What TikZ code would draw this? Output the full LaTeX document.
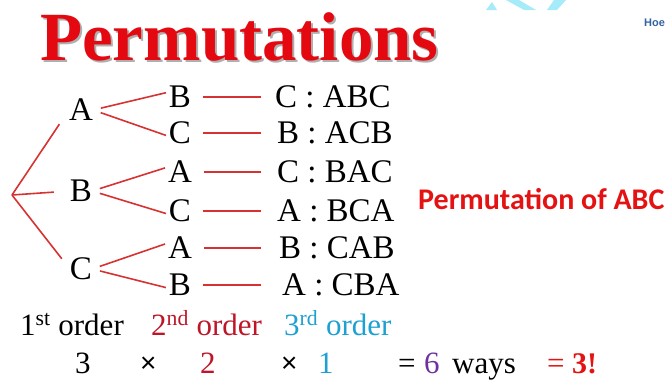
\documentclass[tikz,border=0pt]{standalone}
\usepackage{fontspec}
\setmainfont{Liberation Serif}
\newfontfamily\carlito{Carlito}
\newfontfamily\heros{Liberation Sans}
\usetikzlibrary{calc}
\definecolor{titlered}{RGB}{228,8,16}
\definecolor{shadowgray}{RGB}{175,175,175}
\definecolor{linered}{RGB}{215,50,50}
\definecolor{ordtwo}{RGB}{190,22,40}
\definecolor{ordthree}{RGB}{30,160,210}
\definecolor{sixpurple}{RGB}{112,48,160}
\definecolor{permred}{RGB}{228,18,18}
\definecolor{wmcyan}{RGB}{165,235,250}
\definecolor{hoeblue}{RGB}{50,100,160}
\tikzset{
  letter/.style={inner sep=0pt, font=\fontsize{33}{38}\selectfont},
  res/.style={inner sep=0pt, anchor=west, font=\fontsize{33}{38}\selectfont},
  branch/.style={draw=linered, line width=1.6pt},
  bottom/.style={inner sep=0pt, anchor=base west, font=\fontsize{31}{36}\selectfont},
  times/.style={inner sep=0pt, anchor=base west, font=\heros\fontsize{28}{34}\selectfont},
}
\begin{document}
\begin{tikzpicture}[x=1pt,y=-1pt]
\useasboundingbox (0,0) rectangle (669,381);
\clip (0,0) rectangle (669,381);
% watermark fragments
\fill[wmcyan] (486,10) -- (492,2) -- (497,10) -- cycle;
\fill[wmcyan] (506,0) -- (519,0) -- (536,10) -- (524,10) -- cycle;
\fill[wmcyan] (554,0) -- (566,0) -- (557,10) -- (547,10) -- cycle;
\node[anchor=base west, inner sep=0pt, text=hoeblue, font=\heros\bfseries\fontsize{11}{13}\selectfont] (hoe) at (644,26) {Hoe};
% title
\node[anchor=base west, inner sep=0pt, text=shadowgray, font=\bfseries\fontsize{69}{80}\selectfont] (titleshadow) at (42,62) {Permutations};
\node[anchor=base west, inner sep=0pt, text=titlered, font=\bfseries\fontsize{69}{80}\selectfont] (title) at (40,60) {Permutations};
% first column
\node[letter] (a) at (81,110) {A};
\node[letter] (b) at (81,191) {B};
\node[letter] (c) at (81,269) {C};
\coordinate (root) at (12,195);
\draw[branch, shorten >=17pt] (root) -- (a.west);
\draw[branch, shorten >=16pt] (root) -- (b.west);
\draw[branch, shorten >=13pt] (root) -- (c.west);
% second column
\node[letter] (b1) at (180,97) {B};
\node[letter] (b2) at (180,133) {C};
\node[letter] (b3) at (180,172) {A};
\node[letter] (b4) at (180,211) {C};
\node[letter] (b5) at (180,248) {A};
\node[letter] (b6) at (180,285) {B};
% branches
\foreach \p/\u/\l in {a/b1/b2, b/b3/b4, c/b5/b6}{
  \draw[branch, shorten <=8pt, shorten >=3pt] (\p.east) -- ($(\u.west)!0.45!(\u.north west)$);
  \draw[branch, shorten <=8pt, shorten >=3pt] (\p.east) -- ($(\l.west)!0.3!(\l.south west)$);
}
% third column
\node[res] (c1) at (275,97) {C : ABC};
\node[res] (c2) at (277,133) {B : ACB};
\node[res] (c3) at (277,172) {C : BAC};
\node[res] (c4) at (277,211) {A : BCA};
\node[res] (c5) at (279,248) {B : CAB};
\node[res] (c6) at (282,285) {A : CBA};
\foreach \i/\s in {1/14, 2/16, 3/16, 4/16, 5/18, 6/21}{
  \draw[branch, shorten <=12pt, shorten >=\s pt] (b\i.east) -- (c\i.west);
}
% side label
\node[anchor=base west, inner sep=0pt, text=permred, font=\carlito\bfseries\fontsize{30}{36}\selectfont] (perm) at (418,209) {Permutation of ABC};
% bottom rows
\node[bottom] (o1) at (20,335) {1\textsuperscript{st} order};
\node[bottom, text=ordtwo] (o2) at (151,335) {2\textsuperscript{nd} order};
\node[bottom, text=ordthree] (o3) at (284,335) {3\textsuperscript{rd} order};
\node[bottom] (n3) at (75,373) {3};
\node[times] (x1) at (140,372) {×};
\node[bottom, text=ordtwo] (n2) at (200,373) {2};
\node[times] (x2) at (281,372) {×};
\node[bottom, text=ordthree] (n1) at (318,373) {1};
\node[bottom] (eq1) at (398,373) {=};
\node[bottom, text=sixpurple] (n6) at (424,373) {6};
\node[bottom] (ways) at (452,373) {ways};
\node[bottom, text=permred] (eq2) at (547,373) {=};
\node[bottom, text=permred, font=\bfseries\fontsize{30}{34}\selectfont] (fact) at (572,373) {3!};
\end{tikzpicture}
\end{document}
